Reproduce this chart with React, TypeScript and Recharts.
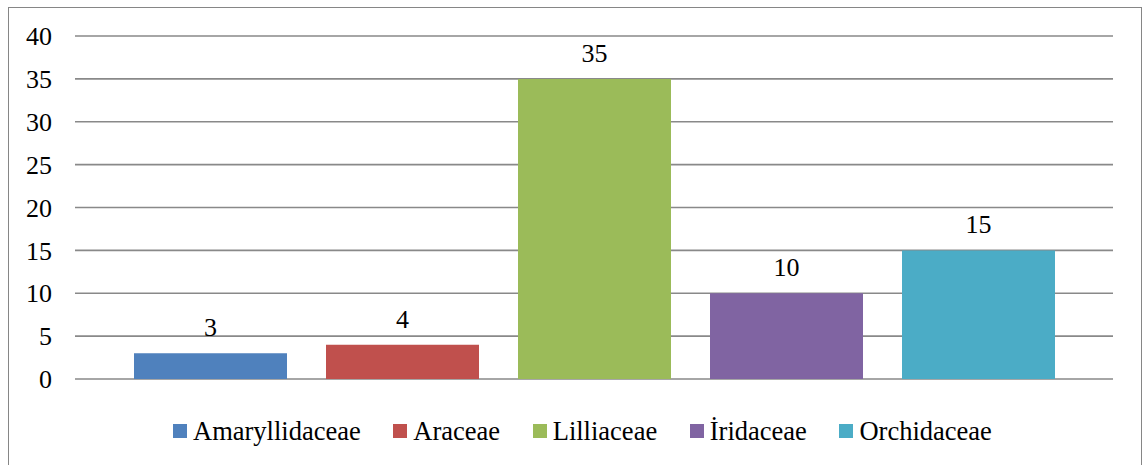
import React from 'react';
import { BarChart, Bar, XAxis, YAxis, CartesianGrid, Legend, LabelList } from 'recharts';

const families = ['Amaryllidaceae', 'Araceae', 'Lilliaceae', 'İridaceae', 'Orchidaceae'];
const counts = [3, 4, 35, 10, 15];
const colors = ['#4F81BD', '#C0504D', '#9BBB59', '#8064A2', '#4BACC6'];
const yTicks = [0, 5, 10, 15, 20, 25, 30, 35, 40];

const FONT = 'Liberation Serif, DejaVu Serif, serif';

// single category row, one key per family
const row: Record<string, string | number> = { name: 'Familya' };
families.forEach((f, i) => {
  row[f] = counts[i];
});
const data = [row];

const FamilyLegend = () => (
  <div
    style={{
      display: 'flex',
      paddingTop: 37,
      paddingLeft: 164,
      height: 30,
      paddingBottom: 20,
      alignItems: 'center',
      fontFamily: FONT,
      fontSize: 26.5,
      color: '#000',
    }}
  >
    {families.map((f, i) => (
      <div key={f} style={{ display: 'flex', alignItems: 'center', marginRight: 32.6 }}>
        <span style={{ width: 14, height: 14, background: colors[i], marginRight: 6, display: 'inline-block' }} />
        <span style={{ lineHeight: '30px', whiteSpace: 'nowrap' }}>{f}</span>
      </div>
    ))}
  </div>
);

const App: React.FC = () => {
  return (
    <div
      style={{
        position: 'fixed',
        top: 7,
        left: 8,
        width: 1132,
        height: 470,
        border: '1px solid #868686',
        background: '#fff',
      }}
    >
      <BarChart
        width={1132}
        height={458}
        data={data}
        margin={{ top: 28, right: 28, left: 10, bottom: 0 }}
        barGap={39}
        style={{ fontFamily: FONT }}
      >
        <CartesianGrid vertical={false} stroke="#898989" strokeWidth={1.6} />
        <XAxis dataKey="name" hide />
        <YAxis
          width={56}
          domain={[0, 40]}
          ticks={yTicks}
          interval={0}
          axisLine={false}
          tickLine={false}
          tickSize={0}
          tickMargin={23}
          tick={{ fill: '#000', fontSize: 26, fontFamily: FONT }}
        />
        <Legend
          verticalAlign="bottom"
          content={() => <FamilyLegend />}
          wrapperStyle={{ left: 0, width: 1132 }}
        />
        {families.map((f, i) => (
          <Bar key={f} dataKey={f} fill={colors[i]} barSize={153} isAnimationActive={false}>
            <LabelList
              dataKey={f}
              position="top"
              offset={17}
              fill="#000"
              fontSize={26}
              fontFamily={FONT}
            />
          </Bar>
        ))}
      </BarChart>
    </div>
  );
};

export default App;
